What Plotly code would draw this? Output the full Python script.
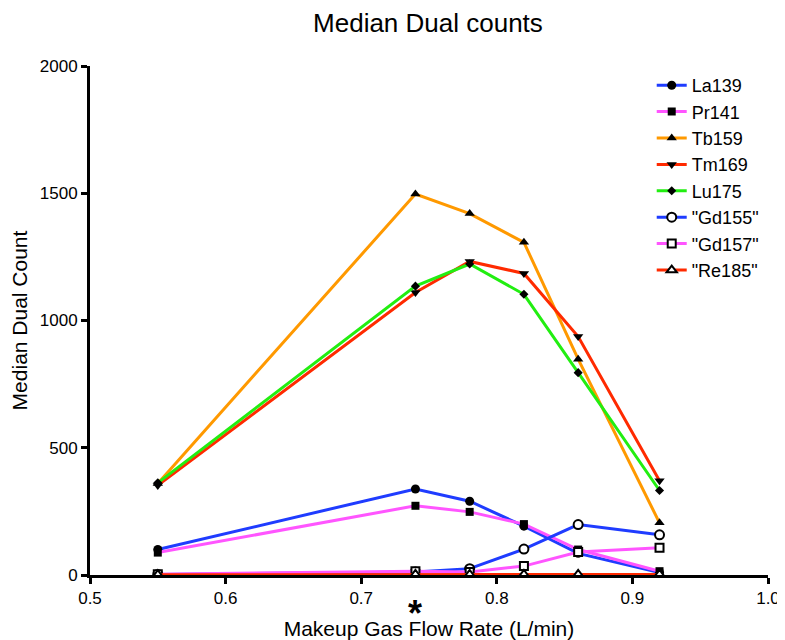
import plotly.graph_objects as go

flow = [0.55, 0.74, 0.78, 0.82, 0.86, 0.92]
la139 = [100, 338, 290, 192, 85, 10]
pr141 = [88, 272, 248, 200, 100, 15]
tb159 = [360, 1497, 1420, 1307, 848, 205]
tm169 = [352, 1110, 1232, 1185, 937, 370]
lu175 = [362, 1135, 1222, 1103, 795, 332]
gd155 = [2, 12, 25, 102, 198, 158]
gd157 = [3, 15, 12, 35, 90, 107]
re185 = [1, 2, 2, 2, 2, 2]

names = ["La139", "Pr141", "Tb159", "Tm169", "Lu175", '"Gd155"', '"Gd157"', '"Re185"']
series = [la139, pr141, tb159, tm169, lu175, gd155, gd157, re185]
colors = ["#1f3cff", "#ff55ff", "#ff9900", "#ff2a00", "#22ee11", "#1f3cff", "#ff55ff", "#ff2a00"]
symbols = ["circle", "square", "triangle-up", "triangle-down", "diamond",
           "circle-open", "square-open", "triangle-up-open"]
sizes = [9, 8, 9, 9, 7, 9, 8, 9]

fig = go.Figure()
for nm, ys, c, s, sz in zip(names, series, colors, symbols, sizes):
    open_ = s.endswith("-open")
    marker = dict(symbol=s.replace("-open", ""), size=sz,
                  color="white" if open_ else "black",
                  line=dict(color="black", width=2 if open_ else 0))
    fig.add_trace(go.Scatter(x=flow, y=ys, name=nm, mode="lines+markers",
                             line=dict(color=c, width=3), marker=marker))

fig.add_annotation(x=0.74, y=0, yref="y", xref="x", text="<b>*</b>", showarrow=False,
                   yanchor="top", yshift=-16, font=dict(size=36, color="black", family="Liberation Sans"))

fig.update_layout(
    width=777, height=632,
    paper_bgcolor="white", plot_bgcolor="white",
    margin=dict(l=82, r=17, t=58, b=65),
    font=dict(family="Liberation Sans, Arial", color="black", size=14),
    title=dict(text="Median Dual counts", x=0.5405, xanchor="center", y=0.976, yanchor="middle",
               font=dict(size=26)),
    xaxis=dict(range=[0.5, 1.0], tickvals=[0.5, 0.6, 0.7, 0.8, 0.9, 1.0],
               ticktext=["0.5", "0.6", "0.7", "0.8", "0.9", "1.0"], automargin=False,
               showline=True, linecolor="black", linewidth=3, ticks="outside",
               ticklen=6, tickwidth=3, tickcolor="black", showgrid=False, zeroline=False,
               tickfont=dict(size=17),
               title=dict(text="Makeup Gas Flow Rate (L/min)", font=dict(size=21), standoff=18)),
    yaxis=dict(range=[0, 2000], tickvals=[0, 500, 1000, 1500, 2000], automargin=False,
               showline=True, linecolor="black", linewidth=3, ticks="outside",
               ticklen=6, tickwidth=3, tickcolor="black", showgrid=False, zeroline=False,
               tickfont=dict(size=17),
               title=dict(text="Median Dual Count", font=dict(size=21), standoff=12)),
    legend=dict(x=0.8285, y=0.998, xanchor="left", yanchor="top", bgcolor="rgba(0,0,0,0)",
                font=dict(size=18), tracegroupgap=0, itemwidth=30),
)

fig.write_html("out.html")
